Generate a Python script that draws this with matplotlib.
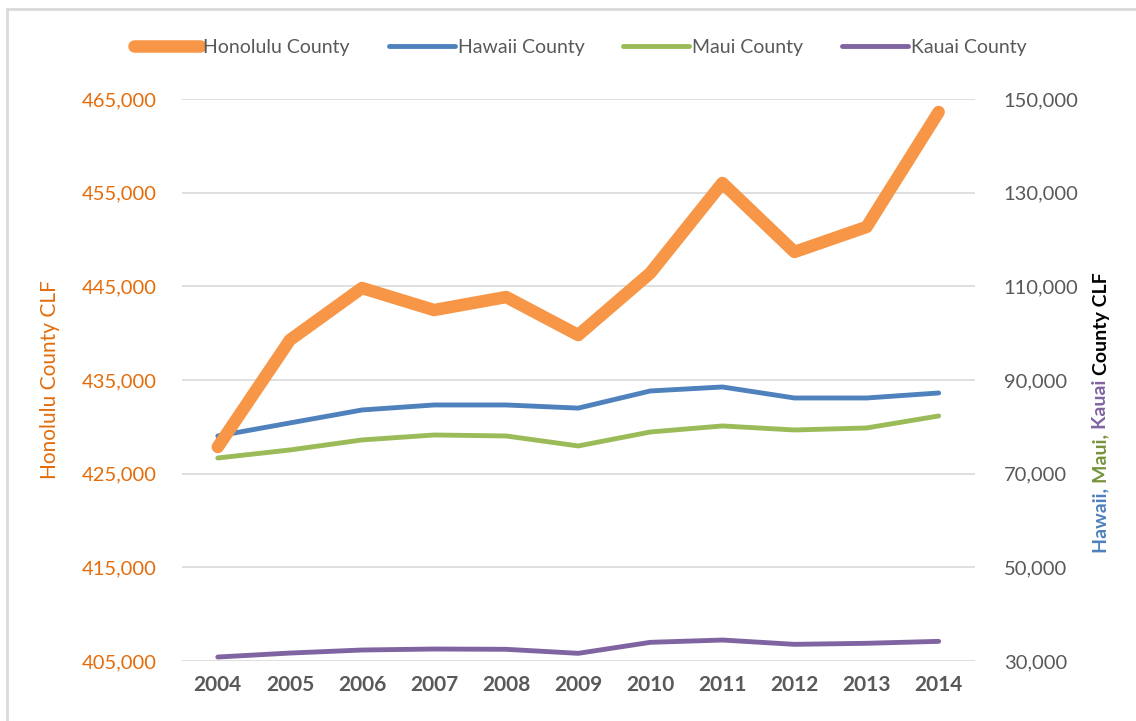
import matplotlib
matplotlib.use("Agg")
import matplotlib.pyplot as plt
from matplotlib.patches import Rectangle
from matplotlib.ticker import FuncFormatter

# data (civilian labour force by county)
years = ["2004", "2005", "2006", "2007", "2008", "2009",
         "2010", "2011", "2012", "2013", "2014"]
honolulu = [427850, 439270, 444820, 442470, 443860, 439800,
            446420, 456030, 448670, 451340, 463610]
hawaii = [78050, 80830, 83600, 84670, 84670, 84000,
          87660, 88510, 86160, 86160, 87230]
maui = [73350, 75060, 77200, 78260, 78050, 75920,
        78900, 80190, 79330, 79760, 82320]
kauai = [30850, 31700, 32350, 32560, 32500, 31640,
         33990, 34480, 33560, 33780, 34200]
left_ticks = [405000, 415000, 425000, 435000, 445000, 455000, 465000]
right_ticks = [30000, 50000, 70000, 90000, 110000, 130000, 150000]

ORANGE = "#F79646"
BLUE = "#4F81BD"
GREEN = "#9BBB59"
PURPLE = "#8064A2"
LABEL_ORANGE = "#E46C0A"
GREY = "#595959"

plt.rcParams["font.family"] = ["Lato", "DejaVu Sans"]

fig = plt.figure(figsize=(11.36, 7.21), dpi=100)
ax = fig.add_axes([0.160, 0.0832, 0.698, 0.7795])
ax2 = ax.twinx()

# chart frame, only left and top edges fall inside the picture
fig.patches.append(Rectangle((7 / 1136, -0.05), 1.2, 1 - 9 / 721 + 0.05,
                             transform=fig.transFigure, fill=False,
                             edgecolor="#D9D9D9", linewidth=2))

x = list(range(len(years)))
ax.plot(x, honolulu, color=ORANGE, lw=9, solid_capstyle="round",
        solid_joinstyle="round", zorder=3, label="Honolulu County")
ax2.plot(x, hawaii, color=BLUE, lw=3.5, solid_capstyle="round", label="Hawaii County")
ax2.plot(x, maui, color=GREEN, lw=3.5, solid_capstyle="round", label="Maui County")
ax2.plot(x, kauai, color=PURPLE, lw=3.5, solid_capstyle="round", label="Kauai County")

# honolulu on top of the right-axis lines
ax.set_zorder(ax2.get_zorder() + 1)
ax.patch.set_visible(False)

ax.set_xlim(-0.5, len(years) - 0.5)
ax.set_ylim(left_ticks[0], left_ticks[-1])
ax2.set_ylim(right_ticks[0], right_ticks[-1])
ax.set_yticks(left_ticks)
ax2.set_yticks(right_ticks)
fmt = FuncFormatter(lambda v, p: f"{int(v):,}")
ax.yaxis.set_major_formatter(fmt)
ax2.yaxis.set_major_formatter(fmt)

ax.set_xticks(x)
ax.set_xticklabels(years, fontsize=15, fontweight="bold", color=GREY)
ax.tick_params(axis="x", length=0, pad=10)
ax.tick_params(axis="y", length=0, pad=18, labelsize=14.5, labelcolor=LABEL_ORANGE)
ax2.tick_params(axis="y", length=0, pad=21, labelsize=14.5, labelcolor=GREY)

ax.grid(axis="y", color="#D9D9D9", lw=1.2)
ax.set_axisbelow(True)
for a in (ax, ax2):
    for s in a.spines.values():
        s.set_visible(False)

ax.set_ylabel("Honolulu County CLF", color=LABEL_ORANGE, fontsize=15, labelpad=16)

# multi-coloured right axis title built piece by piece
fig.canvas.draw()
renderer = fig.canvas.get_renderer()
parts = [("Hawaii, ", BLUE), ("Maui, ", "#77933C"), ("Kauai ", PURPLE), ("County CLF", "black")]
ypos = 553
for txt, col in parts:
    t = fig.text(1101 / 1136, 1 - ypos / 721, txt, rotation=90, color=col,
                 fontsize=14, fontweight="bold", ha="center", va="bottom")
    bb = t.get_window_extent(renderer)
    ypos -= bb.height

h1, l1 = ax.get_legend_handles_labels()
h2, l2 = ax2.get_legend_handles_labels()
fig.legend(h1 + h2, l1 + l2, loc="center", bbox_to_anchor=(0.511, 0.934),
           ncol=4, frameon=False, fontsize=14, labelcolor=GREY,
           handlelength=3.4, handletextpad=0.15, columnspacing=2.0)

fig.savefig("out.png", dpi=100)
